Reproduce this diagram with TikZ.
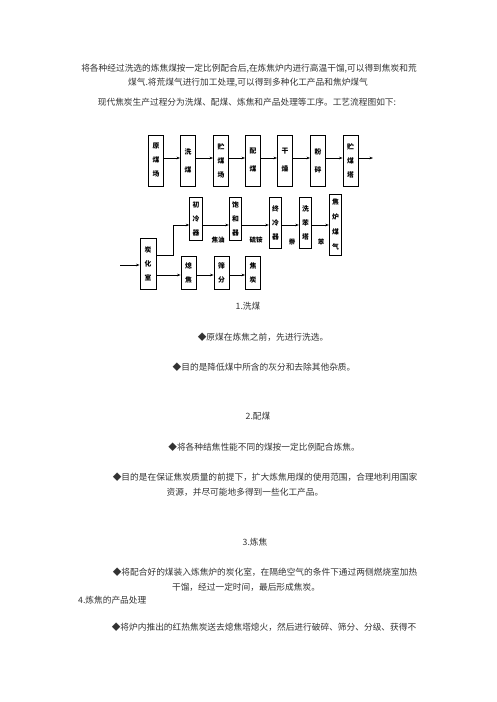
\documentclass[tikz,border=0pt]{standalone}
\usepackage{fontspec}
\setmainfont{Noto Sans CJK SC}
\usetikzlibrary{arrows.meta}
\begin{document}
\begin{tikzpicture}[x=1pt,y=-1pt,>={Stealth[length=3.5pt,width=2.6pt]},
				box/.style={draw,line width=0.9pt,inner sep=0pt,minimum width=15pt,minimum height=51pt,align=center,font=\fontsize{6.8}{14}\selectfont\bfseries},
				thin box/.style={box,minimum width=12.5pt},
				flow/.style={->,line width=0.7pt},
				lbl/.style={inner sep=0pt,font=\fontsize{6.5}{8}\selectfont\bfseries},
				txt/.style={inner sep=0pt,text=black!80,font=\fontsize{8.7}{10}\selectfont}]
\path[use as bounding box,fill=white] (0,0) rectangle (496,702);
\node[txt] (p1) at (249,69) {将各种经过洗选的炼焦煤按一定比例配合后,在炼焦炉内进行高温干馏,可以得到焦炭和荒};
\node[txt] (p2) at (248,83) {煤气.将荒煤气进行加工处理,可以得到多种化工产品和焦炉煤气};
\node[txt] (p3) at (247,102) {现代焦炭生产过程分为洗煤、配煤、炼焦和产品处理等工序。工艺流程图如下:};
\node[box] (raw) at (156,160.5) {原\\煤\\场};
\node[box] (wash) at (188,160.5) {洗\\[4pt]煤};
\node[box] (store) at (221,160.5) {贮\\煤\\场};
\node[box] (blend) at (253,160.5) {配\\[4pt]煤};
\node[box] (dry) at (285,160.5) {干\\[4pt]燥};
\node[box] (crush) at (318,160.5) {粉\\[4pt]碎};
\node[box] (tower) at (350.5,160.5) {贮\\煤\\塔};
\node[thin box,minimum height=43pt] (cool) at (196,218.5) {初\\冷\\器};
\node[thin box,minimum height=43pt] (sat) at (235.5,218.5) {饱\\和\\器};
\node[thin box] (fcool) at (275.5,222.5) {终\\冷\\器};
\node[thin box] (benz) at (305.5,222.5) {洗\\苯\\塔};
\node[thin box,minimum height=61pt,font=\fontsize{6.8}{15}\selectfont\bfseries] (gas) at (335.5,224.5) {焦\\炉\\煤\\气};
\node[box,minimum width=16pt] (oven) at (148,263.5) {炭\\化\\室};
\node[box,minimum height=33pt] (quench) at (188.5,272.5) {熄\\焦};
\node[box,minimum height=33pt] (screen) at (221.5,272.5) {筛\\分};
\node[box,minimum height=33pt] (coke) at (253,272.5) {焦\\炭};
\node[lbl] (tar) at (218,240) {焦油};
\node[lbl] (amm) at (256,240) {硫铵};
\node[lbl] (nap) at (292,242) {萘};
\node[lbl] (ben) at (321,242) {苯};
\coordinate (r1) at (0,158);
\coordinate (r2) at (0,225);
\coordinate (r3) at (0,275);
\coordinate (feed) at (120,265);
\coordinate (bend) at (173,255);
\coordinate (out) at (373,158);
\draw[flow] (raw.east |- r1) -- (wash.west |- r1);
\draw[flow] (wash.east |- r1) -- (store.west |- r1);
\draw[flow] (store.east |- r1) -- (blend.west |- r1);
\draw[flow] (blend.east |- r1) -- (dry.west |- r1);
\draw[flow] (dry.east |- r1) -- (crush.west |- r1);
\draw[flow] (crush.east |- r1) -- (tower.west |- r1);
\draw[flow] (tower.east |- r1) -- (out);
\draw[flow] (feed) -- (feed -| oven.west);
\draw[flow] (bend -| oven.east) -- (bend) |- (cool.west |- r2);
\draw[flow] (cool.east |- r2) -- (sat.west |- r2);
\draw[flow] (sat.east |- r2) -- (fcool.west |- r2);
\draw[flow] (fcool.east |- r2) -- (benz.west |- r2);
\draw[flow] (benz.east |- r2) -- (gas.west |- r2);
\draw[flow] (oven.east |- r3) -- (quench.west |- r3);
\draw[flow] (quench.east |- r3) -- (screen.west |- r3);
\draw[flow] (screen.east |- r3) -- (coke.west |- r3);
\node[txt] (h1) at (248,306) {1.洗煤};
\node[txt] (b1) at (263,337) {◆原煤在炼焦之前，先进行洗选。};
\node[txt] (b2) at (264,367) {◆目的是降低煤中所含的灰分和去除其他杂质。};
\node[txt] (h2) at (258,416) {2.配煤};
\node[txt] (b3) at (264,447) {◆将各种结焦性能不同的煤按一定比例配合炼焦。};
\node[txt] (b4) at (265,477) {◆目的是在保证焦炭质量的前提下，扩大炼焦用煤的使用范围，合理地利用国家};
\node[txt] (b5) at (245,492) {资源，并尽可能地多得到一些化工产品。};
\node[txt] (h3) at (255,542) {3.炼焦};
\node[txt] (b6) at (265,572) {◆将配合好的煤装入炼焦炉的炭化室，在隔绝空气的条件下通过两侧燃烧室加热};
\node[txt] (b7) at (246,587) {干馏，经过一定时间，最后形成焦炭。};
\node[txt,anchor=west] (h4) at (78,600) {4.炼焦的产品处理};
\node[txt] (b8) at (264,627) {◆将炉内推出的红热焦炭送去熄焦塔熄火，然后进行破碎、筛分、分级、获得不};
\end{tikzpicture}
\end{document}
